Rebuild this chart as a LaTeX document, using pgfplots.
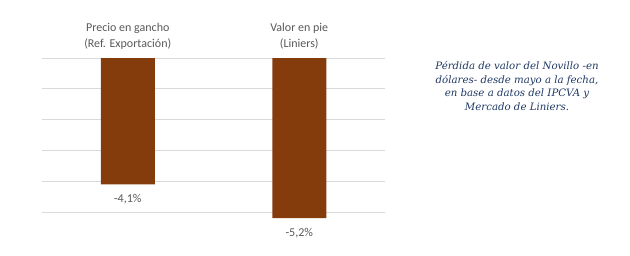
\documentclass[border=0pt]{standalone}
\usepackage{pgfplots}
\pgfplotsset{compat=1.18}
\usepackage{fontspec}
\setmainfont{Carlito}
\newfontfamily\serifit{DejaVu Serif}
\definecolor{barbrown}{HTML}{843C0C}
\definecolor{gridgray}{HTML}{D9D9D9}
\definecolor{txtgray}{HTML}{595959}
\definecolor{noteblue}{HTML}{1F3864}
\begin{document}
\begin{tikzpicture}[x=1bp,y=1bp]
\path (0,0) rectangle (630,255);
\begin{axis}[
  at={(42bp,43bp)}, anchor=south west,
  scale only axis, width=343bp, height=154bp,
  ybar, bar width=54bp,
  xmin=-0.5, xmax=1.5, ymin=-5, ymax=0,
  clip=false,
  axis line style={draw=none},
  ytick={-5,-4,-3,-2,-1,0}, yticklabels={},
  ymajorgrids, major grid style={gridgray, line width=0.8pt},
  major tick length=0pt,
  xtick=data,
  xticklabels={{Precio en gancho\\(Ref. Exportación)},{Valor en pie\\(Liniers)}},
  xticklabel pos=upper,
  xticklabel style={align=center, text=txtgray, font=\fontsize{12bp}{16bp}\selectfont, yshift=5bp},
  point meta=explicit symbolic,
  nodes near coords,
  every node near coord/.append style={anchor=north, yshift=-7bp, text=txtgray, font=\fontsize{12bp}{13bp}\selectfont},
]
\addplot[fill=barbrown, draw=none] coordinates {(0,-4.1) [-4,1\%] (1,-5.2) [-5,2\%]};
\end{axis}
\node[align=center, text=noteblue, font=\serifit\itshape\fontsize{10.2bp}{13.4bp}\selectfont] at (517,169)
{Pérdida de valor del Novillo -en\\dólares- desde mayo a la fecha,\\en base a datos del IPCVA y\\Mercado de Liniers.};
\end{tikzpicture}
\end{document}
